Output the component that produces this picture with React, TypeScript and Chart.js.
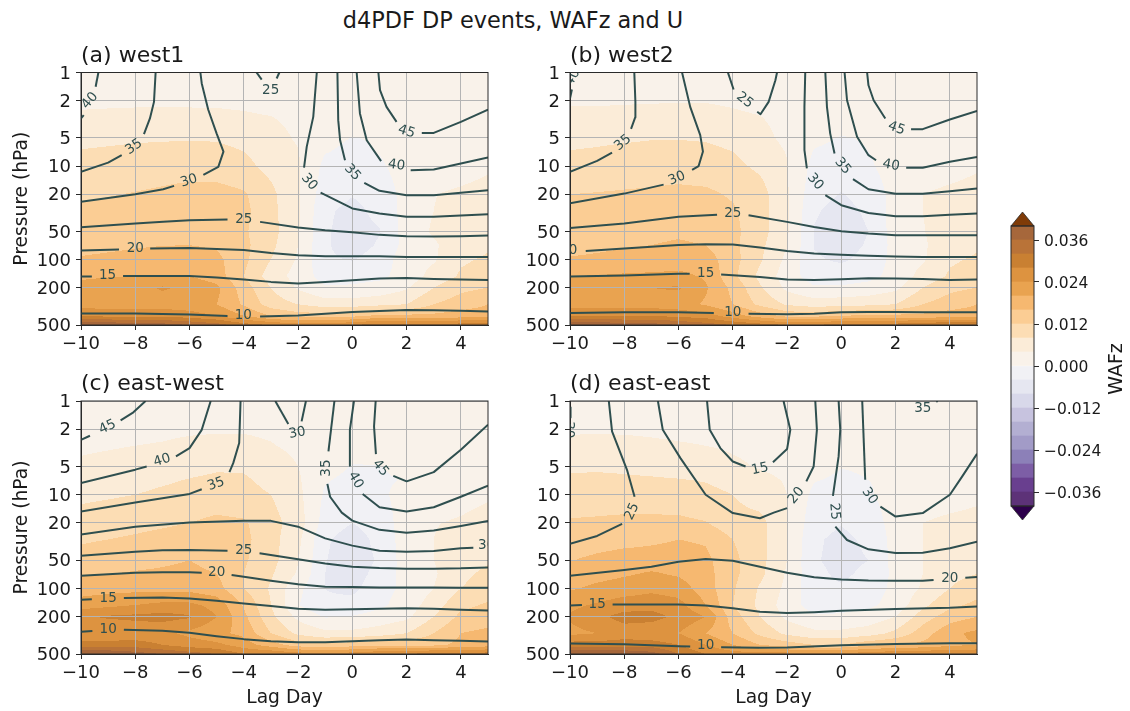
import React, { useEffect, useRef } from "react";
import { Chart, registerables } from "chart.js";

Chart.register(...registerables);

const FONT = "'DejaVu Sans', sans-serif";
const TEXT = "#1a1a1a";
const CONTOUR = "#2f4f4f";

const lagDays = [-10, -9, -8, -7, -6, -5, -4, -3, -2, -1, 0, 1, 2, 3, 4, 5];
const pressureLevels = [1, 2, 3, 5, 7, 10, 20, 30, 50, 70, 100, 150, 200, 300, 400, 500];
const pressureTicks = [1, 2, 5, 10, 20, 50, 100, 200, 500];
const colorbarTicks = [-0.036, -0.024, -0.012, 0, 0.012, 0.024, 0.036];
const bandEdges = [-40, -36, -32, -28, -24, -20, -16, -12, -8, -4, 0, 4, 8, 12, 16, 20, 24, 28, 32, 36, 40];
const bandColors = [
  "#5d3278", "#693f8f", "#7d5ea6", "#8c80b8", "#a29bc7", "#b3afd2", "#c7c3df", "#d8d8ea", "#e6e7f1", "#f1f1f5",
  "#f9f2ea", "#fbecd8", "#fcddb4", "#fbcd94", "#f6b870", "#e9a350", "#dd9340", "#c98032", "#b97338", "#a6673b",
];
const overColor = "#7f3b08";
const underColor = "#2d004b";

// WAFz x 1000, rows follow pressureLevels, columns follow lagDays
const wafA = [
  [2, 2, 2, 2, 2, 2, 2, 2, 2, 2, 2, 2, 2, 2, 2, 2],
  [3, 3.2, 3.3, 3.3, 3.3, 3.2, 3, 2.5, 2, 1.5, 1.5, 1.5, 1.5, 1.5, 1.5, 1.5],
  [4.8, 4.9, 5, 5, 5, 5, 4.6, 4.1, 3, 2, 1.5, 1.5, 2, 2, 2, 2],
  [7, 7.2, 7.5, 7.6, 7.7, 7.6, 6.8, 5.5, 3.5, 1, -0.1, 0.3, 1.5, 2, 2.5, 3],
  [8.2, 8.5, 8.8, 9, 9.2, 9, 8, 6.5, 4.2, 0.2, -0.8, 0.2, 1.8, 1.8, 2.5, 3],
  [9, 9.5, 10, 10.5, 10.5, 10, 9, 6.8, 4.3, -1, -1.8, -0.6, 1.8, 2, 2.5, 3.5],
  [11.5, 11.8, 12.2, 12.6, 13.2, 13.5, 12.5, 9, 4.4, -2.2, -3.8, -2.5, 1.5, 3.9, 4.6, 5.2],
  [12.5, 13, 13.2, 13.5, 14, 14, 13, 9.2, 4.6, -3.4, -5, -3, 1.6, 4, 5, 5.5],
  [13.5, 14, 14.5, 15, 15, 14.5, 12.5, 9.5, 4.4, -3.6, -5.4, -4.2, 1.8, 4.5, 6, 6.5],
  [14.5, 15, 15.5, 15.9, 16, 15.5, 13, 9, 4, -3.6, -5.6, -3.6, 1.5, 3.5, 6, 7.5],
  [16.5, 17, 17.5, 18, 18, 17, 13, 8, 3.5, -3.5, -4.2, -2.5, 2.5, 3.5, 7.5, 8.5],
  [19.5, 19.8, 20, 20, 20, 18, 12, 6, 2.5, -1.8, -1.2, -0.8, 1.5, 5.5, 8.5, 9.5],
  [21, 21.5, 22.5, 24.5, 23, 21, 14, 8, 3.5, 0.5, 0.5, 1.2, 3.5, 8, 11, 12],
  [22, 22, 22, 22, 21.5, 20, 15.5, 10, 8, 6, 6, 7, 8, 12, 14, 16],
  [28, 27, 27, 27, 26, 24, 20, 16, 14, 14, 15, 17, 17, 17, 18, 18],
  [40, 40, 38, 38, 36, 34, 30, 28, 26, 26, 28, 30, 30, 30, 30, 30],
];
const wafB = [
  [2, 2, 2, 2, 2, 2, 2, 2, 2, 2, 2, 2, 2, 2, 2, 2],
  [3.5, 3.5, 3.6, 3.7, 3.8, 3.8, 3.5, 3, 2.5, 1.8, 1.5, 1.5, 1.5, 1.5, 1.5, 1.5],
  [5, 5, 5.2, 5.3, 5.3, 5.2, 4.6, 4.1, 3, 2, 1.5, 1.5, 2, 2, 2, 2],
  [7, 7.2, 7.5, 7.8, 7.8, 7.6, 6.8, 5, 3.2, 0.8, -0.2, 0.3, 1.5, 2, 2.5, 3],
  [8.1, 8.4, 8.8, 9, 9.2, 8.9, 8, 6, 3.8, -0.2, -1, 0, 1.5, 1.8, 2.5, 3],
  [9, 9.5, 10, 10.2, 10.2, 9.8, 9, 7.2, 4.2, -1.2, -2, -0.6, 2, 2, 2.5, 3.5],
  [12, 12.2, 12.4, 12.6, 13, 12.8, 11.5, 9.7, 4.4, -2.6, -4.2, -2.6, 1.5, 4, 4.8, 5.5],
  [12.8, 13, 13.2, 13.6, 14, 14, 12.5, 9.7, 4.6, -3.6, -5.2, -3.4, 1.8, 4, 5.5, 6],
  [14, 14.5, 15, 15.2, 15.5, 15, 13, 9.7, 4.5, -4.2, -5.8, -4, 2, 3.8, 6, 7],
  [14.8, 15.2, 15.7, 16, 16.4, 16, 13, 9, 4.2, -4.2, -5.6, -3.6, 1.5, 3.5, 6, 7.5],
  [16.3, 16.7, 17, 17.4, 18, 18, 13.5, 8.5, 3, -3.5, -4.6, -2.8, 1.5, 3.5, 7.5, 8.5],
  [20, 20.2, 20.6, 20.8, 21, 19.5, 13, 7, 2, -2, -1.8, -1, 1.2, 5.5, 8.5, 9.5],
  [21.5, 21.5, 22, 24, 24.5, 20.5, 15, 8.5, 3, 0.5, 0.5, 1.2, 3, 8, 11, 12],
  [22, 22, 22, 22, 21.5, 19.5, 16, 11, 7.5, 6, 6.5, 7, 8, 12, 14, 16],
  [28, 28, 28, 28, 27, 26, 22, 18, 15, 15, 16, 17, 17, 17, 18, 18],
  [40, 40, 38, 38, 36, 34, 32, 30, 28, 28, 30, 30, 30, 32, 32, 32],
];
const wafC = [
  [2, 2, 2, 2, 2, 2, 2, 2, 2, 2, 2, 2, 2, 2, 2, 2],
  [2.8, 3, 3.2, 3.4, 3.6, 3.7, 3.7, 3.4, 2.8, 2, 1.5, 1.5, 1.5, 1.5, 1.5, 1.5],
  [3.5, 3.7, 4, 4.2, 4.6, 4.8, 4.8, 4.2, 3.2, 2, 1.5, 1.5, 1.5, 2, 2, 2],
  [4.5, 5, 5.5, 6, 6.8, 7.5, 7.5, 6, 4, 1.5, -0.2, -0.1, 1, 1.5, 2.5, 3],
  [5.5, 6, 6.8, 7.5, 8.2, 8.7, 8.5, 7, 4.5, 0.3, -1, -0.6, 0.3, 1.5, 2.5, 3],
  [7, 7.5, 8, 8.7, 9.2, 9.6, 9.2, 8, 5, -0.6, -1.8, -0.8, 1.5, 1.5, 2.5, 3.5],
  [10, 10.5, 11, 11.5, 12, 13, 12.5, 9.5, 6, -1.8, -4, -2.2, 2, 3.8, 4.5, 5.5],
  [11.5, 12, 12.5, 13, 13.5, 14, 13, 9.5, 5, -3.4, -6, -2.8, 2, 4, 5.5, 6.5],
  [13.5, 14.5, 15, 15.5, 16, 15, 12.5, 9.5, 4.2, -3.8, -6.5, -3.4, 2, 4, 6, 7.5],
  [15.7, 16, 16.3, 16.5, 16.8, 16, 12, 8.5, 3.5, -4, -6, -2.5, 1.5, 3.5, 7, 9],
  [18, 18.5, 18.8, 18.8, 18.6, 17.5, 12, 7.5, 1, -4, -5, -1.5, 1, 4, 8, 10],
  [22, 23, 24, 25, 25, 22.5, 15.5, 8, 0.2, -3.5, -2.5, -0.8, 1.8, 6, 11, 12.5],
  [27.5, 28.5, 29, 29.5, 28.5, 24, 17, 9, 3, -0.3, 0.2, 1.5, 3, 8, 13, 14],
  [24, 24.5, 25, 25, 23, 21, 19, 12, 7, 5, 5, 6, 8, 12, 16, 17],
  [30, 30, 30, 28, 26, 25, 22, 18, 14, 13, 14, 15, 15, 15, 17, 18],
  [40, 40, 38, 36, 34, 32, 28, 28, 26, 26, 26, 28, 28, 30, 30, 30],
];
const wafD = [
  [2, 2, 2, 2, 2, 2, 2, 2, 2, 2, 2, 2, 2, 2, 2, 2],
  [3.4, 3.5, 3.5, 3.4, 3.2, 3, 2.5, 2, 1.5, 1.5, 1, 1, 1, 1, 1, 1],
  [5.2, 5.2, 5, 4.6, 4.3, 4, 3.5, 3, 2.2, 1.8, 1.2, 1.2, 1.2, 1.2, 1.2, 1.2],
  [7.5, 7.6, 7.4, 7, 6.5, 6, 4.7, 3.7, 3, 1.2, 0.1, 0.4, 1, 1.5, 2, 2.5],
  [8.5, 8.6, 8.5, 8.4, 8.2, 7.8, 6.8, 5, 3.7, 0.2, -0.6, 0, 0.5, 1.5, 2, 2.5],
  [9.5, 9.7, 9.8, 9.8, 9.7, 9, 8, 6, 4, -1, -1.6, -0.4, 1.5, 1.5, 2, 3],
  [12.5, 12.7, 13, 13, 12.9, 12.2, 9.5, 9.3, 4.2, -2.4, -3.8, -2, 1.5, 4, 5, 5.5],
  [13.5, 14, 14.5, 15.2, 16, 15.5, 12, 9.3, 4.3, -3.4, -5, -3.2, 1.5, 4, 6, 6.5],
  [15.8, 17, 18, 18, 18, 17, 13, 9.3, 4, -3.6, -5.2, -4, 1.5, 4, 6, 7],
  [17.5, 18.5, 19.5, 20.5, 19.5, 17.5, 13, 9, 3.5, -3, -4.8, -3, 1, 4, 7, 8],
  [19.5, 21, 22, 23, 22, 18, 12.5, 7.5, 3, -3, -3.5, -2, 1, 4.5, 8, 10],
  [23, 24.5, 26, 26.5, 25.5, 20, 12, 7, 2, -1.8, -1.2, -0.8, 1.5, 7, 11, 13],
  [24.5, 27, 29.5, 29.5, 27, 24, 14, 8, 3, 0.5, 0.5, 1.5, 4, 10, 14, 16],
  [23, 24, 26, 25, 24, 20, 16, 11, 7, 5, 5, 6, 9, 14, 19, 21],
  [30, 30, 30, 30, 28, 24, 20, 16, 14, 12, 12, 15, 16, 17, 19, 20],
  [40, 40, 40, 38, 32, 28, 26, 26, 26, 26, 26, 26, 28, 28, 28, 28],
];

// zonal wind contours: pieces of [lag, pressure]
const contoursA = [
  [[-10, 377], [-8, 377], [-6, 387], [-4.6, 400]],
  [[-3.4, 406], [-2, 396], [0, 362], [2, 345], [3, 347], [4, 353], [5, 359]],
  [[-10, 152], [-9.6, 152]],
  [[-8.45, 150], [-6, 150], [-5, 155], [-4, 163], [-3, 173], [-2, 180], [-1, 174], [0, 166], [1, 159], [2, 157], [3, 161], [4, 163], [5, 165]],
  [[-10, 80], [-8.6, 78]],
  [[-7.45, 76], [-6, 75], [-5, 77], [-4, 79], [-3, 85], [-2, 90], [-1, 92], [0, 92], [1, 92], [2, 93.5], [3, 93.5], [4, 94], [5, 94]],
  [[-10, 45], [-8, 41], [-6.97, 39.5], [-6, 38], [-4.6, 37.3]],
  [[-3.4, 39.5], [-2, 45.4], [-1, 48.5], [0, 51], [1, 54.4], [2, 56.2], [3, 56.7], [4, 56.2], [5, 55.3]],
  [[-10, 24.1], [-8, 20], [-6.97, 17.7], [-6.57, 16.3]],
  [[-5.49, 12.4], [-4.94, 10.2], [-4.75, 7], [-5, 4.5], [-5.31, 2.5], [-5.55, 1.31], [-5.6, 1]],
  [[-1.78, 10.4], [-1.68, 6.2], [-1.44, 2.98], [-1.31, 1]],
  [[-1.17, 19.2], [0, 28.4], [1, 32.2], [2, 34.9], [3, 34.9], [4, 33.8], [5, 32.7]],
  [[-10, 11.5], [-9, 9.2], [-8.5, 7.65]],
  [[-7.68, 4.56], [-7.46, 3.1], [-7.31, 2.06], [-7.25, 1]],
  [[-0.55, 1], [-0.52, 3.23], [-0.45, 5.3], [-0.27, 8.66]],
  [[0.44, 15.1], [1, 18.4], [2, 20.5], [3, 20.5], [4, 19.3], [5, 18.1]],
  [[-10, 3.1], [-9.9, 2.86]],
  [[-9.46, 1.42], [-9.36, 1]],
  [[0.16, 1], [0.28, 2.74], [0.53, 5.3], [1.06, 8.87]],
  [[2.15, 11.07], [3, 10.9], [4, 9.4], [5, 8.1]],
  [[0.96, 1], [1.02, 1.54], [1.26, 2.33], [1.63, 3.37]],
  [[2.56, 4.42], [3, 4.42], [4, 3.37], [5, 2.49]],
  [[-3.53, 1], [-3.34, 1.19]],
  [[-2.69, 1], [-2.79, 1.16]],
];
const labelsA = [
  [-4.02, 396, "10", 0], [-9.02, 149, "15", 0], [-8, 75.5, "20", 0], [-4, 37.3, "25", 0], [-6.02, 14.4, "30", -18],
  [-8.05, 6.24, "35", -35], [-9.67, 2, "40", -50], [-3.01, 1.57, "25", 0], [-1.59, 14.8, "30", 50], [0, 11.7, "35", 48],
  [1.63, 9.8, "40", 8], [2, 4.3, "45", 18],
];

const contoursB = [
  [[-10, 371], [-8, 365], [-6, 365], [-4.7, 371]],
  [[-3.42, 380], [-2, 384], [-1, 380], [0, 365], [1, 362], [2, 362], [3, 365], [5, 365]],
  [[-10, 152], [-8, 148], [-6, 142], [-5.59, 142]],
  [[-4.43, 144], [-3, 153], [-2, 163], [-1, 165], [0, 162], [1, 158], [2, 159], [3, 161], [4, 165], [5, 163]],
  [[-9.42, 80.7], [-8, 76], [-6, 69.6], [-5, 68.4], [-4, 69], [-3, 74.3], [-2, 80.7], [-1, 86], [0, 89], [1, 91], [2, 92.7], [3, 93.5], [5, 93.5]],
  [[-10, 46], [-8, 41], [-6, 34.9], [-4.58, 33.2]],
  [[-3.42, 33.5], [-2, 39.5], [-1, 44.7], [0, 49.7], [1, 52.6], [2, 54.8], [3, 54.8], [4, 54.8], [5, 54.8]],
  [[-10, 25], [-8, 19.7], [-6.55, 15.8]],
  [[-5.5, 11], [-5.26, 10], [-5.1, 7], [-5.2, 4.68], [-5.57, 2.33], [-5.87, 1]],
  [[-1.27, 10.6], [-1.36, 6.77], [-1.36, 2.33], [-1.33, 1]],
  [[-0.59, 20.5], [0, 26.2], [1, 31.7], [2, 34.4], [3, 34.4], [4, 33.2], [5, 32.2]],
  [[-10, 11.5], [-9, 8.8], [-8.45, 7.2]],
  [[-7.75, 4], [-7.6, 3.03], [-7.59, 2.06], [-7.63, 1]],
  [[-0.59, 1], [-0.53, 2.33], [-0.41, 4.5], [-0.25, 7.35]],
  [[0.43, 13.8], [1, 17.7], [2, 19.8], [3, 19.8], [4, 18.6], [5, 17.4]],
  [[-10, 1.9], [-9.93, 1.52]],
  [[0.12, 1], [0.21, 1.98], [0.58, 4.87], [1, 7.65], [1.28, 8.66]],
  [[2.39, 10.4], [3, 10.4], [4, 9], [5, 8]],
  [[0.95, 1], [1, 1.37], [1.19, 1.98], [1.62, 3.1]],
  [[2.57, 4.03], [3, 4.03], [4, 3.18], [5, 2.57]],
  [[-4.18, 1], [-3.97, 1.52]],
  [[-3.1, 2.63], [-2.98, 2.79], [-2.68, 2.06], [-2.43, 1.21], [-2.37, 1]],
];
const labelsB = [
  [-4, 365, "10", 0], [-5, 140, "15", 0], [-10.05, 80, "20", 0], [-4, 32.4, "25", 0], [-6.06, 13.6, "30", -22],
  [-8.05, 5.64, "35", -40], [-0.96, 14.7, "30", 50], [0.05, 10, "35", 50], [-9.9, 1.13, "40", -60], [1.83, 9.8, "40", 10],
  [2.03, 3.97, "45", 20], [-3.56, 1.98, "25", 38],
];

const contoursC = [
  [[-10, 290], [-9.58, 285]],
  [[-8.42, 276], [-7, 283], [-6, 297], [-5, 323], [-4, 347], [-3, 365], [-2, 374], [-1, 374], [0, 365], [1, 356], [2, 350], [3, 356], [4, 362], [5, 368]],
  [[-10, 132], [-9.6, 130]],
  [[-8.42, 126], [-7, 125], [-6, 128], [-5, 135], [-4, 144.5], [-3, 154], [-2, 165], [-1, 169], [0, 167], [1, 165], [2, 163], [3, 165], [4, 169], [5, 172]],
  [[-10, 73], [-8, 68], [-7, 67], [-6, 67], [-5.55, 68]],
  [[-4.45, 72], [-4, 75], [-3, 82.6], [-2, 90], [-1, 95.8], [0, 96.7], [1, 97.4], [2, 97.4], [3, 97.4], [4, 98], [5, 98]],
  [[-10, 44.7], [-8, 40.5], [-7, 39.2], [-6, 38.9], [-4.6, 39.5]],
  [[-3.42, 42.2], [-2, 48.9], [-1, 54], [0, 58.6], [1, 60.5], [2, 61.5], [3, 61.5], [4, 61], [5, 59.6]],
  [[-10, 26.6], [-8, 21.9], [-6, 19.8], [-4, 19], [-3, 19], [-2, 21.9], [-1, 29.2], [0, 34.9], [1, 39.5], [2, 40.5], [3, 39.8], [4, 37.3], [4.46, 36.7]],
  [[-2.84, 1], [-2.36, 1.76]],
  [[-1.87, 1.65], [-1.71, 1]],
  [[-10, 15.1], [-8, 12.1], [-6, 9.8], [-5.55, 8.73]],
  [[-4.53, 5.74], [-4.39, 4.6], [-4.17, 2.81], [-4.12, 1]],
  [[-0.66, 1], [-0.88, 3.45]],
  [[-0.92, 7.65], [-0.82, 10.5], [-0.39, 15.5], [0, 18.9], [1, 23.7], [2, 25.4], [3, 24.1], [4, 21.5], [5, 19]],
  [[-10, 7.5], [-8, 5.4], [-7.58, 5]],
  [[-6.5, 3.9], [-6, 3.18], [-5.55, 2.03], [-5.22, 1]],
  [[0.06, 1], [-0.09, 2.03], [-0.09, 4.9]],
  [[0.38, 9.8], [1, 13.6], [2, 15.1], [3, 13.6], [4, 10.5], [5, 8]],
  [[-10, 2.59], [-9.67, 2.35]],
  [[-8.54, 1.61], [-8.07, 1.32], [-7.62, 1]],
  [[0.86, 1], [0.8, 1.87], [0.87, 3.69]],
  [[1.51, 6.28], [2, 7.2], [3, 5.74], [4, 3.31], [5, 1.79]],
];
const labelsC = [
  [-9, 274, "10", 0], [-9, 127, "15", 0], [-5, 67, "20", 0], [-4, 39.5, "25", 0], [4.95, 35, "30", 0],
  [-2.03, 2.2, "30", -10], [-5.02, 7.7, "35", -20], [-0.97, 5.2, "35", -90], [-7.01, 4.3, "40", -18], [0.12, 7, "40", 60],
  [-9.02, 1.9, "45", -25], [1.04, 5.2, "45", 50],
];

const contoursD = [
  [[-10, 386], [-8, 393], [-6, 413], [-5.57, 416]],
  [[-4.43, 423], [-3, 430], [-2, 427], [0, 403], [2, 390], [4, 384], [5, 384]],
  [[-10, 152], [-9.56, 150]],
  [[-8.43, 148], [-6, 148], [-5, 152], [-4, 163], [-3, 177], [-2, 183], [-1, 179], [0, 173], [2, 166], [4, 161], [5, 155.5]],
  [[-10, 73], [-8, 63.6], [-7, 58.6], [-6, 51.8], [-5, 48.5], [-4, 50.5], [-3, 58.6], [-2, 68], [-1, 76], [0, 80], [1, 82], [2, 82.7], [3, 82.7], [3.4, 81]],
  [[4.57, 77], [5, 75.5]],
  [[-10, 33.3], [-9, 27.5], [-8.08, 20.5]],
  [[-7.62, 10.5], [-7.9, 5.42], [-8.45, 2.11], [-8.57, 1]],
  [[-10, 1.5], [-9.98, 1.15]],
  [[-0.1, 1], [-0.04, 2.03], [-0.1, 3.9], [-0.31, 10.3]],
  [[-0.22, 21.9], [0.21, 30.4], [1, 38.2], [2, 41.8], [3, 41.5], [4, 37.3], [5, 31.7]],
  [[-6.76, 1], [-6.58, 2.03], [-5.93, 4.07], [-5, 10], [-4, 15.7], [-3, 17.8], [-2.49, 15.5], [-2, 13.9]],
  [[-1.29, 7.2], [-1.02, 5], [-0.9, 2.03], [-0.96, 1]],
  [[-4.95, 1], [-4.85, 2.03], [-4.46, 3.18], [-4, 4.42], [-3.53, 5]],
  [[-2.52, 4.49], [-2, 3.26], [-1.88, 2.03], [-2.13, 1]],
  [[0.77, 1], [0.88, 6.93]],
  [[1.44, 13.4], [2, 17.1], [3, 15.7], [4, 10], [4.45, 6.4], [5, 3.66]],
  [[3.5, 1.02], [3.55, 1]],
];
const labelsD = [
  [-5, 409, "10", 0], [-9, 148, "15", 0], [4, 78, "20", 0], [-7.71, 15.1, "25", -65], [-10.05, 2.03, "30", 90],
  [-0.25, 15.1, "25", 85], [-1.66, 10.2, "20", -50], [-3, 5.33, "15", -12], [1.04, 10.3, "30", 55], [3, 1.19, "35", 0],
];

const interp = (f: number, a: number, b: number) => a + (b - a) * f;

function fieldAt(grid: number[][], lag: number, p: number) {
  let c = Math.floor(lag + 10);
  c = Math.max(0, Math.min(lagDays.length - 2, c));
  const fx = lag - lagDays[c];
  let r = 0;
  while (r < pressureLevels.length - 2 && pressureLevels[r + 1] <= p) r++;
  const fy = (Math.log(p) - Math.log(pressureLevels[r])) / (Math.log(pressureLevels[r + 1]) - Math.log(pressureLevels[r]));
  return interp(fy, interp(fx, grid[r][c], grid[r][c + 1]), interp(fx, grid[r + 1][c], grid[r + 1][c + 1]));
}

function bandColor(v: number) {
  if (v >= 40) return bandColors[19];
  if (v < -40) return underColor;
  return bandColors[Math.floor((v + 40) / 4)];
}

const contourFill = (grid: number[][]) => ({
  id: "contourFill",
  beforeDraw(chart: any) {
    const { ctx, chartArea: a, scales } = chart;
    ctx.save();
    for (let py = Math.floor(a.top); py < Math.ceil(a.bottom); py++) {
      const p = Math.max(1, Math.min(500, scales.y.getValueForPixel(py + 0.5)));
      let start = Math.floor(a.left);
      let col = "";
      for (let px = Math.floor(a.left); px <= Math.ceil(a.right); px++) {
        const c = px === Math.ceil(a.right) ? "" : bandColor(fieldAt(grid, Math.max(-10, Math.min(5, scales.x.getValueForPixel(px + 0.5))), p));
        if (c !== col) {
          if (col) {
            ctx.fillStyle = col;
            ctx.fillRect(start, py, px - start, 1);
          }
          col = c;
          start = px;
        }
      }
    }
    ctx.restore();
  },
});

const contourLabels = (labels: any[]) => ({
  id: "contourLabels",
  afterDatasetsDraw(chart: any) {
    const { ctx, chartArea: a, scales } = chart;
    ctx.save();
    ctx.beginPath();
    ctx.rect(a.left, a.top, a.right - a.left, a.bottom - a.top);
    ctx.clip();
    ctx.font = `13.5px ${FONT}`;
    ctx.fillStyle = CONTOUR;
    ctx.textAlign = "center";
    ctx.textBaseline = "middle";
    for (const [lag, p, text, rot] of labels) {
      ctx.save();
      ctx.translate(scales.x.getPixelForValue(lag), scales.y.getPixelForValue(p));
      ctx.rotate((rot * Math.PI) / 180);
      ctx.fillText(text, 0, 0);
      ctx.restore();
    }
    ctx.restore();
  },
});

const frame = {
  id: "frame",
  afterDraw(chart: any) {
    const { ctx, chartArea: a } = chart;
    ctx.save();
    ctx.strokeStyle = "#2a2a2a";
    ctx.lineWidth = 1;
    ctx.strokeRect(a.left, a.top, a.right - a.left, a.bottom - a.top);
    ctx.restore();
  },
};

const minus = (s: string) => s.replace("-", "\u2212");

function panelConfig(o: any) {
  return {
    type: "scatter",
    data: {
      datasets: o.contours.map((seg: number[][]) => ({
        data: seg.map(([x, y]) => ({ x, y })),
        showLine: true,
        borderColor: CONTOUR,
        borderWidth: 2,
        pointRadius: 0,
        tension: 0,
        borderJoinStyle: "round",
      })),
    },
    options: {
      responsive: false,
      animation: false,
      events: [],
      layout: { padding: { right: o.padRight, left: 0, top: 0, bottom: 0 } },
      plugins: {
        legend: { display: false },
        tooltip: { enabled: false },
        title: {
          display: true,
          text: o.title,
          align: "start",
          fullSize: false,
          color: TEXT,
          font: { family: FONT, size: 22, weight: "normal", lineHeight: 1.2 },
          padding: { top: o.titleTop, bottom: 3.5 },
        },
      },
      scales: {
        x: {
          type: "linear",
          min: -10,
          max: 5,
          afterFit: (s: any) => { s.height = o.xHeight; },
          title: o.xTitle
            ? { display: true, text: "Lag Day", color: TEXT, font: { family: FONT, size: 18.7 }, padding: { top: 0, bottom: 2 } }
            : { display: false },
          ticks: {
            stepSize: 2,
            includeBounds: false,
            autoSkip: false,
            maxRotation: 0,
            color: TEXT,
            padding: 4,
            font: { family: FONT, size: 18 },
            callback: (v: number) => minus(String(v)),
          },
          grid: { color: "#b4b4b4", lineWidth: 1, tickColor: "#2a2a2a", tickLength: 5 },
          border: { color: "#2a2a2a", width: 1 },
        },
        y: {
          type: "logarithmic",
          reverse: true,
          min: 1,
          max: 500,
          afterFit: (s: any) => { s.width = o.yWidth; },
          afterBuildTicks: (s: any) => { s.ticks = pressureTicks.map((value) => ({ value })); },
          title: o.yTitle
            ? { display: true, text: "Pressure (hPa)", color: TEXT, font: { family: FONT, size: 18.7 }, padding: { top: 11, bottom: 0 } }
            : { display: false },
          ticks: {
            autoSkip: false,
            color: TEXT,
            padding: 5,
            labelOffset: 1.5,
            font: { family: FONT, size: 18 },
            callback: (v: number) => String(v),
          },
          grid: { color: "#b4b4b4", lineWidth: 1, tickColor: "#2a2a2a", tickLength: 5 },
          border: { color: "#2a2a2a", width: 1 },
        },
      },
    },
    plugins: [contourFill(o.grid), contourLabels(o.labels), frame],
  };
}

const panels = [
  { key: "a", title: "(a) west1", grid: wafA, contours: contoursA, labels: labelsA, left: 0, top: 40, w: 500, h: 320, yWidth: 81, padRight: 12, xHeight: 35, titleTop: 2.6, yTitle: true, xTitle: false },
  { key: "b", title: "(b) west2", grid: wafB, contours: contoursB, labels: labelsB, left: 500, top: 40, w: 490, h: 320, yWidth: 70, padRight: 13, xHeight: 35, titleTop: 2.6, yTitle: false, xTitle: false },
  { key: "c", title: "(c) east-west", grid: wafC, contours: contoursC, labels: labelsC, left: 0, top: 369, w: 500, h: 342, yWidth: 81, padRight: 12, xHeight: 57, titleTop: 2.1, yTitle: true, xTitle: true },
  { key: "d", title: "(d) east-east", grid: wafD, contours: contoursD, labels: labelsD, left: 500, top: 369, w: 490, h: 342, yWidth: 70, padRight: 13, xHeight: 57, titleTop: 2.1, yTitle: false, xTitle: true },
];

const colorbarExtras = {
  id: "colorbarExtras",
  afterDraw(chart: any) {
    const { ctx, chartArea: a } = chart;
    const mid = (a.left + a.right) / 2;
    const tri = (base: number, tip: number, color: string) => {
      ctx.beginPath();
      ctx.moveTo(a.left, base);
      ctx.lineTo(mid, tip);
      ctx.lineTo(a.right, base);
      ctx.closePath();
      ctx.fillStyle = color;
      ctx.fill();
      ctx.strokeStyle = "#2a2a2a";
      ctx.lineWidth = 0.8;
      ctx.stroke();
    };
    ctx.save();
    tri(a.top, a.top - 14, overColor);
    tri(a.bottom, a.bottom + 14, underColor);
    ctx.strokeStyle = "#2a2a2a";
    ctx.lineWidth = 1;
    ctx.strokeRect(a.left, a.top, a.right - a.left, a.bottom - a.top);
    ctx.translate(127, (a.top + a.bottom) / 2 + 3);
    ctx.rotate(-Math.PI / 2);
    ctx.font = `19px ${FONT}`;
    ctx.fillStyle = TEXT;
    ctx.textAlign = "center";
    ctx.textBaseline = "bottom";
    ctx.fillText("WAFz", 0, 0);
    ctx.restore();
  },
};

function Panel({ o }: { o: any }) {
  const ref = useRef<HTMLCanvasElement>(null);
  useEffect(() => {
    const chart = new Chart(ref.current as any, panelConfig(o) as any);
    return () => chart.destroy();
  }, []);
  return <canvas ref={ref} width={o.w} height={o.h} style={{ position: "absolute", left: o.left, top: o.top, width: o.w, height: o.h }} />;
}

function Colorbar() {
  const ref = useRef<HTMLCanvasElement>(null);
  useEffect(() => {
    const chart = new Chart(ref.current as any, {
      type: "bar",
      data: {
        labels: ["WAFz"],
        datasets: bandColors.map((color, i) => ({
          data: [[bandEdges[i] / 1000, bandEdges[i + 1] / 1000]],
          backgroundColor: color,
          borderWidth: 0,
          grouped: false,
          barPercentage: 1,
          categoryPercentage: 1,
        })),
      },
      options: {
        responsive: false,
        animation: false,
        events: [],
        layout: { padding: { left: 11, top: 25, bottom: 25, right: 0 } },
        plugins: { legend: { display: false }, tooltip: { enabled: false }, title: { display: false } },
        scales: {
          x: { display: false },
          y: {
            position: "right",
            min: -0.04,
            max: 0.04,
            afterFit: (s: any) => { s.width = 96; },
            afterBuildTicks: (s: any) => { s.ticks = colorbarTicks.map((value) => ({ value })); },
            ticks: {
              autoSkip: false,
              color: TEXT,
              padding: 5,
              labelOffset: 1.5,
              font: { family: FONT, size: 15.5 },
              callback: (v: number) => minus(v.toFixed(3)),
            },
            grid: { drawOnChartArea: false, tickColor: "#2a2a2a", tickLength: 5 },
            border: { display: false },
          },
        },
      } as any,
      plugins: [colorbarExtras],
    } as any);
    return () => chart.destroy();
  }, []);
  return <canvas ref={ref} width={130} height={330} style={{ position: "absolute", left: 1000, top: 201, width: 130, height: 330 }} />;
}

export default function App() {
  return (
    <div style={{ position: "absolute", left: 0, top: 0, width: 1130, height: 711, background: "#fff", overflow: "hidden", filter: "blur(0.45px)" }}>
      <div style={{ position: "absolute", left: 0, width: 1026, top: 7, textAlign: "center", fontFamily: FONT, fontSize: 22.4, color: TEXT, whiteSpace: "nowrap" }}>
        d4PDF DP events, WAFz and U
      </div>
      {panels.map((o) => <Panel key={o.key} o={o} />)}
      <Colorbar />
    </div>
  );
}
